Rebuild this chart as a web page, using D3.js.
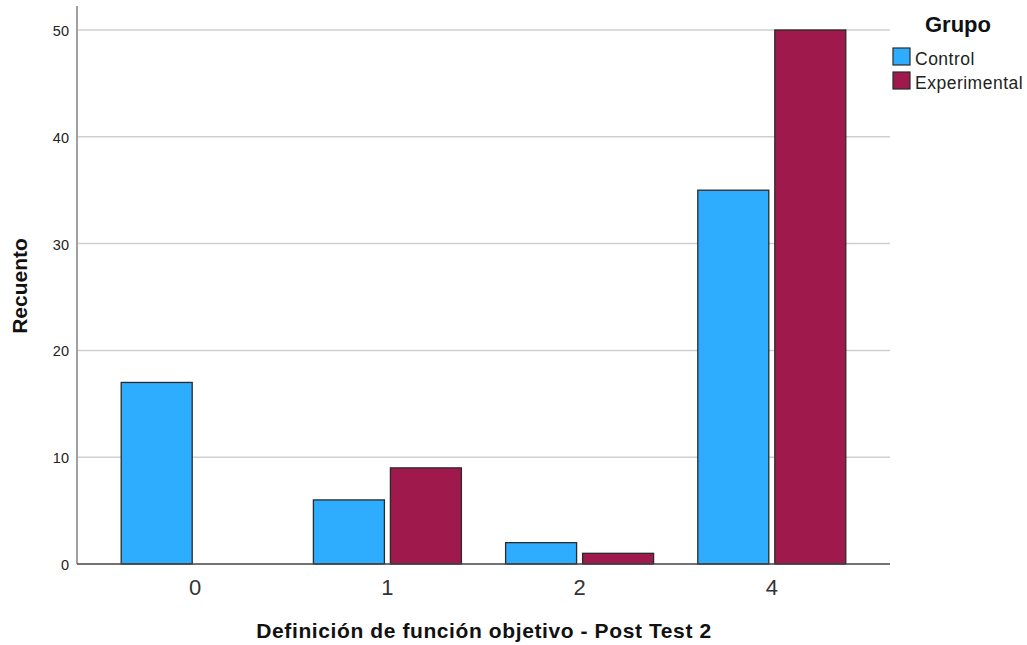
<!DOCTYPE html>
<html><head><meta charset="utf-8">
<script src="https://cdn.jsdelivr.net/npm/d3@7"></script>
<style>body{margin:0;background:#fff;} text{font-family:"Liberation Sans",Arial,sans-serif;}</style>
</head><body><svg id="c" width="1027" height="645"></svg>
<script>
const categories = ["0","1","2","4"];
const seriesNames = ["Control","Experimental"];
const controlValues = [17, 6, 2, 35];
const experimentalValues = [0, 9, 1, 50];
const yTicks = [0,10,20,30,40,50];
const colors = ["#2eacfe","#a0194c"];

(function(){
const svg = d3.select("#c");
const pLeft = 77, pRight = 890, pTop = 30, pBottom = 564;
const y = d3.scaleLinear().domain([0,50]).range([pBottom, pTop]);
const x = d3.scaleBand().domain(categories).range([pLeft, pRight]).padding(0.23);
const xs = d3.scaleBand().domain(seriesNames).range([0, x.bandwidth()]).paddingInner(0.078);

// gridlines
svg.append("g").selectAll("line").data(yTicks.filter(d=>d>0)).join("line")
  .attr("x1", pLeft).attr("x2", pRight).attr("y1", d=>y(d)).attr("y2", d=>y(d))
  .attr("stroke","#cfcfcf").attr("stroke-width",1.5);

// bars
const data = [];
categories.forEach((c,i)=>{
  data.push({c, s:"Control", v:controlValues[i], col:colors[0]});
  data.push({c, s:"Experimental", v:experimentalValues[i], col:colors[1]});
});
svg.append("g").selectAll("rect").data(data.filter(d=>d.v>0)).join("rect")
  .attr("x", d=>x(d.c)+xs(d.s)).attr("width", xs.bandwidth())
  .attr("y", d=>y(d.v)).attr("height", d=>y(0)-y(d.v))
  .attr("fill", d=>d.col).attr("stroke","#2a2a2a").attr("stroke-width",1.3);

// axes lines
svg.append("line").attr("x1",pLeft).attr("x2",pLeft).attr("y1",6).attr("y2",pBottom)
  .attr("stroke","#a0a0a0").attr("stroke-width",2);
svg.append("line").attr("x1",pLeft).attr("x2",pRight).attr("y1",pBottom).attr("y2",pBottom)
  .attr("stroke","#444").attr("stroke-width",1.5);

// y tick labels
svg.append("g").selectAll("text").data(yTicks).join("text")
  .attr("x", 69).attr("y", d=>y(d)+6).attr("text-anchor","end")
  .attr("font-size",14.5).attr("fill","#222").text(d=>d);

// x tick labels
svg.append("g").selectAll("text").data(categories).join("text")
  .attr("x", d=>x(d)+x.bandwidth()/2).attr("y", 595).attr("text-anchor","middle")
  .attr("font-size",22).attr("fill","#333").text(d=>d);

// axis titles
svg.append("text").attr("x",484).attr("y",638).attr("text-anchor","middle")
  .attr("font-size",21).attr("font-weight","bold").attr("fill","#111")
  .attr("letter-spacing",0.6)
  .text("Definición de función objetivo - Post Test 2");
svg.append("text").attr("transform","translate(27,286) rotate(-90)").attr("text-anchor","middle")
  .attr("font-size",21).attr("font-weight","bold").attr("fill","#111").text("Recuento");

// legend
svg.append("text").attr("x",958).attr("y",32).attr("text-anchor","middle")
  .attr("font-size",22).attr("font-weight","bold").attr("fill","#111").text("Grupo");
const lg = svg.append("g").selectAll("g").data(seriesNames).join("g")
  .attr("transform",(d,i)=>`translate(893,${48+i*24})`);
lg.append("rect").attr("width",17).attr("height",17).attr("fill",(d,i)=>colors[i])
  .attr("stroke","#2a2a2a").attr("stroke-width",1.2);
lg.append("text").attr("x",22).attr("y",17).attr("font-size",17.5).attr("letter-spacing",0.5)
  .attr("fill","#222").text(d=>d);
})();
</script></body></html>
